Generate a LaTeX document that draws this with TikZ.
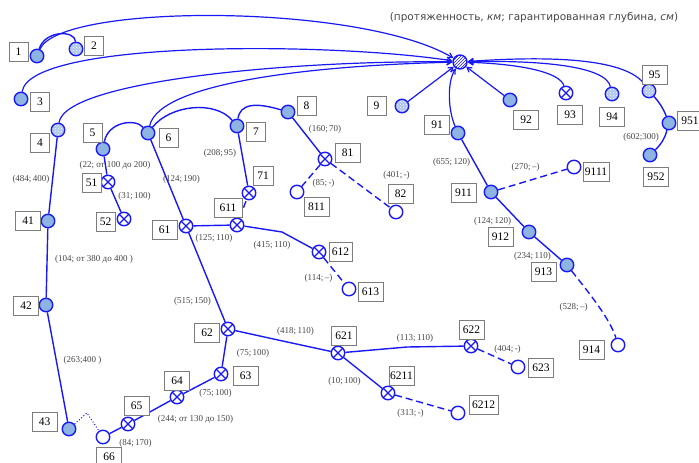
\documentclass[tikz,border=0pt]{standalone}
\usepackage{fontspec}
\setmainfont{Liberation Serif}
\newfontfamily\hdrfont{DejaVu Sans}
\usetikzlibrary{arrows.meta,patterns}
\definecolor{lb}{RGB}{25,25,245}
\definecolor{fb}{RGB}{141,180,226}
\definecolor{hb}{RGB}{175,198,236}
\definecolor{lg}{RGB}{70,70,70}
\definecolor{bg}{RGB}{125,125,125}
\begin{document}
\begin{tikzpicture}[x=1pt,y=-1pt,
  pt/.style={circle, draw=lb, line width=1.4pt, minimum size=13.5pt, inner sep=0pt},
  filled/.style={pt, fill=fb},
  hatched/.style={pt, preaction={fill=hb}, pattern=crosshatch dots, pattern color=white},
  crossed/.style={pt, fill=white, path picture={\draw[lb, line width=1.2pt]
     (path picture bounding box.north west) -- (path picture bounding box.south east)
     (path picture bounding box.north east) -- (path picture bounding box.south west);}},
  opn/.style={pt, fill=white},
  hubst/.style={pt, minimum size=14pt, preaction={fill=white}, pattern=north east lines, pattern color=lb},
  box/.style={rectangle, draw=bg, line width=0.9pt, fill=white, minimum width=25pt,
     minimum height=19pt, inner sep=1pt, font=\fontsize{11.5}{12}\selectfont},
  sbox/.style={box, minimum width=19pt},
  elab/.style={font=\fontsize{9}{10}\selectfont, text=lg, inner sep=0pt},
  ln/.style={draw=lb, line width=1.4pt},
  dsh/.style={ln, dash pattern=on 7pt off 4pt},
  dtd/.style={draw=lb, line width=1pt, dotted},
  arr/.style={draw=lb, line width=1.2pt, -{Straight Barb[length=4.5pt,width=5.5pt]}}
]
\useasboundingbox (0,0) rectangle (699,463);

% header
\node[font=\hdrfont\fontsize{10.5}{12}\selectfont, text=lg, inner sep=0pt] (hdr) at (534,18)
  {(протяженность, \textit{км}; гарантированная глубина, \textit{см})};

% circles
\node[hubst] (hub) at (460,62) {};
\node[filled] (n1) at (37,56) {};
\node[hatched] (n2) at (76,49) {};
\node[filled] (n3) at (21,99) {};
\node[hatched] (n4) at (58,130) {};
\node[filled] (n5) at (103,149) {};
\node[filled] (n6) at (148,133) {};
\node[filled] (n7) at (237,126) {};
\node[filled] (n8) at (288,112) {};
\node[hatched] (n9) at (402,106) {};
\node[filled] (n91) at (458,133) {};
\node[filled] (n92) at (510,100) {};
\node[crossed] (n93) at (566,93) {};
\node[hatched] (n94) at (612,94) {};
\node[hatched] (n95) at (649,91) {};
\node[filled] (n951) at (669,123) {};
\node[filled] (n952) at (650,155) {};
\node[filled] (n41) at (48,221) {};
\node[filled] (n42) at (46,305) {};
\node[filled] (n43) at (69,429) {};
\node[opn] (n66) at (103,437) {};
\node[crossed] (n65) at (128,424) {};
\node[crossed] (n64) at (177,397) {};
\node[crossed] (n63) at (221,374) {};
\node[crossed] (n62) at (228,329) {};
\node[crossed] (n621) at (338,353) {};
\node[crossed] (n6211) at (388,393) {};
\node[opn] (n6212) at (458,413) {};
\node[crossed] (n622) at (471,346) {};
\node[opn] (n623) at (518,367) {};
\node[crossed] (n61) at (186,226) {};
\node[crossed] (n611) at (237,225) {};
\node[crossed] (n71) at (249,193) {};
\node[crossed] (n612) at (319,252) {};
\node[opn] (n613) at (349,289) {};
\node[crossed] (n81) at (325,159) {};
\node[opn] (n811) at (297,192) {};
\node[opn] (n82) at (396,212) {};
\node[crossed] (n51) at (108,182) {};
\node[crossed] (n52) at (124,219) {};
\node[filled] (n911) at (491,192) {};
\node[opn] (n9111) at (574,167) {};
\node[filled] (n912) at (529,232) {};
\node[filled] (n913) at (567,265) {};
\node[opn] (n914) at (618,345) {};

\coordinate (dotpeak) at (87,413);
\coordinate (bk612) at (282,232);
\coordinate (bk621) at (278,340);
\coordinate (bk622) at (407,347);

% edges to hub
\draw[arr] (n1) .. controls (60,3) and (360,3) .. (hub);
\draw[arr] (n3) .. controls (30,40) and (330,42) .. (hub);
\draw[arr] (n4) .. controls (65,80) and (300,60) .. (hub);
\draw[arr] (n6) .. controls (160,80) and (330,65) .. (hub);
\draw[arr] (n9) -- (hub);
\draw[arr] (n92) -- (hub);
\draw[arr] (n91) .. controls (448,110) and (447,82) .. (hub);
\draw[arr] (n93) .. controls (560,72) and (520,64) .. (hub);
\draw[arr] (n94) .. controls (606,66) and (540,60) .. (hub);
\draw[arr] (n95) .. controls (628,60) and (560,55) .. (hub);

% arcs
\draw[ln] (n1) .. controls (45,30) and (75,30) .. (n2);
\draw[ln] (n5) .. controls (108,122) and (135,118) .. (n6);
\draw[ln] (n6) .. controls (170,105) and (215,100) .. (n7);
\draw[ln] (n7) .. controls (240,104) and (255,102) .. (n8);
\draw[ln] (n95) to[bend left=10] (n951);
\draw[ln] (n951) to[bend left=15] (n952);

% network
\draw[ln] (n4) -- (n41) -- (n42) -- (n43);
\draw[dtd] (n43) -- (dotpeak) -- (n66);
\draw[ln] (n66) -- (n65) -- (n64) -- (n63) -- (n62) -- (n61) -- (n6);
\draw[ln] (n61) -- (n611);
\draw[ln] (n611) -- (bk612) -- (n612);
\draw[dsh] (n612) -- (n613);
\draw[dsh] (n611) -- (n71);
\draw[ln] (n71) -- (n7);
\draw[ln] (n8) -- (n81);
\draw[dsh] (n81) -- (n811);
\draw[dsh] (n81) -- (n82);
\draw[ln] (n5) -- (n51) -- (n52);
\draw[ln] (n62) -- (bk621) -- (n621);
\draw[ln] (n621) -- (bk622) -- (n622);
\draw[dsh] (n622) -- (n623);
\draw[ln] (n621) -- (n6211);
\draw[dsh] (n6211) -- (n6212);
\draw[ln] (n91) -- (n911) -- (n912) -- (n913);
\draw[dsh] (n911) -- (n9111);
\draw[dsh] (n913) .. controls (585,288) and (610,318) .. (n914);

% boxes
\node[sbox] (b1) at (18.5,51.5) {1};
\node[sbox] (b2) at (94,46) {2};
\node[sbox] (b3) at (40,101.5) {3};
\node[sbox] (b4) at (40,143) {4};
\node[sbox] (b5) at (92.5,132.5) {5};
\node[sbox] (b6) at (168.5,138) {6};
\node[sbox] (b7) at (256,132) {7};
\node[sbox] (b8) at (306.5,105.5) {8};
\node[sbox] (b9) at (376.5,105.5) {9};
\node[box] (b91) at (437,124.5) {91};
\node[box] (b92) at (526,119.5) {92};
\node[box] (b93) at (570,114.5) {93};
\node[box] (b94) at (612,116.5) {94};
\node[box] (b95) at (654.5,74.5) {95};
\node[box] (b951) at (690,120.5) {951};
\node[box] (b952) at (656,177) {952};
\node[box] (b41) at (28,220.5) {41};
\node[box] (b42) at (26,305.5) {42};
\node[box] (b43) at (44.5,422) {43};
\node[box] (b66) at (109,456.5) {66};
\node[box] (b65) at (136.5,406) {65};
\node[box] (b64) at (177,380.5) {64};
\node[box] (b63) at (245.5,375.5) {63};
\node[box] (b62) at (207,332.5) {62};
\node[box] (b621) at (344,335.5) {621};
\node[box] (b6211) at (401.5,375.5) {6211};
\node[box, minimum width=29pt] (b6212) at (483.5,405) {6212};
\node[box] (b622) at (471.5,329.5) {622};
\node[box] (b623) at (541,367.5) {623};
\node[box] (b914) at (591.5,349.5) {914};
\node[box] (b61) at (164.5,230) {61};
\node[box, minimum width=28pt] (b611) at (228,207.5) {611};
\node[sbox, minimum width=20pt] (b71) at (263,175.5) {71};
\node[box, minimum width=23pt] (b612) at (340.5,251.5) {612};
\node[box] (b613) at (370.5,291.5) {613};
\node[box] (b81) at (347.5,152.5) {81};
\node[box] (b811) at (316.5,207) {811};
\node[box] (b82) at (400.5,194) {82};
\node[sbox] (b51) at (91.5,183) {51};
\node[sbox] (b52) at (105.5,222) {52};
\node[box] (b911) at (463.5,193) {911};
\node[box, minimum width=26pt] (b9111) at (596,171.5) {9111};
\node[box] (b912) at (500.5,237) {912};
\node[box] (b913) at (543.5,271.5) {913};

% edge labels
\node[elab] (l1) at (325,129) {(160;\,70)};
\node[elab] (l2) at (220,153) {(208;\,95)};
\node[elab] (l3) at (115,165) {(22; от 100 до 200)};
\node[elab] (l4) at (134.5,196) {(31;\,100)};
\node[elab] (l5) at (181.5,179) {(124;\,190)};
\node[elab] (l6) at (31,179) {(484;\,400)};
\node[elab] (l7) at (94,259) {(104; от 380 до 400 )};
\node[elab] (l8) at (214,238) {(125;\,110)};
\node[elab] (l9) at (192.5,301) {(515;\,150)};
\node[elab] (l10) at (272,245) {(415;\,110)};
\node[elab] (l11) at (318.5,278) {(114;\,–)};
\node[elab] (l12) at (323.5,183) {(85;\,-)};
\node[elab] (l13) at (396.5,175) {(401;\,-)};
\node[elab] (l14) at (451.5,162) {(655;\,120)};
\node[elab] (l15) at (525.5,167) {(270;\,–)};
\node[elab] (l16) at (492.5,221) {(124;\,120)};
\node[elab] (l17) at (532.5,256) {(234;\,110)};
\node[elab] (l18) at (573.5,307) {(528;\,–)};
\node[elab] (l19) at (507.5,349) {(404;\,-)};
\node[elab] (l20) at (415,338) {(113;\,110)};
\node[elab] (l21) at (295.5,331) {(418;\,110)};
\node[elab] (l22) at (253,353) {(75;\,100)};
\node[elab] (l23) at (344.5,381) {(10;\,100)};
\node[elab] (l24) at (410.5,413) {(313;\,-)};
\node[elab] (l25) at (215.5,393) {(75;\,100)};
\node[elab] (l26) at (195.5,419) {(244; от 130 до 150)};
\node[elab] (l27) at (135.5,443) {(84;\,170)};
\node[elab] (l28) at (82.5,360) {(263;400 )};
\node[elab] (l29) at (641,137) {(602;300)};
\end{tikzpicture}
\end{document}
